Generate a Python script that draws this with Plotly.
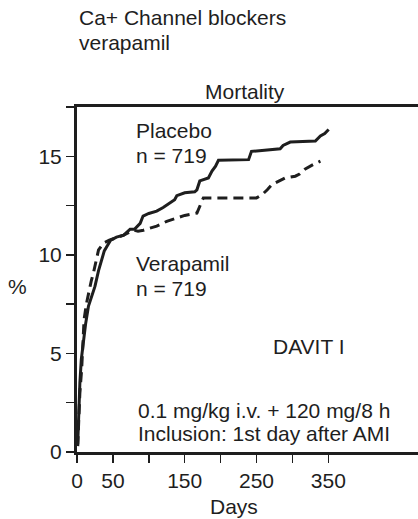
import plotly.graph_objects as go

# Data (Kaplan-Meier style cumulative mortality, %)
placebo_days = [1, 2, 4, 6, 9, 12, 16, 20, 25, 30, 34, 38, 42, 47, 55, 65, 74, 80, 88, 92,
                100, 111, 120, 130, 136, 139, 150, 164, 167, 171, 183, 188, 193, 197,
                239, 243, 283, 287, 297, 332, 339, 345, 350.5]
placebo_pct = [0.4, 1.5, 3.5, 4.7, 5.7, 6.5, 7.4, 7.9, 8.4, 9.2, 9.75, 10.2, 10.45, 10.75,
               10.9, 11.0, 11.3, 11.3, 11.6, 11.97, 12.1, 12.22, 12.4, 12.64, 12.8, 13.0,
               13.15, 13.2, 13.3, 13.75, 13.9, 14.25, 14.5, 14.8, 14.83, 15.25, 15.38,
               15.55, 15.72, 15.77, 16.03, 16.15, 16.36]

verapamil_days = [1, 2, 4, 6.5, 9.8, 13, 16, 20, 23, 27, 30, 37, 45, 55, 65, 79, 85, 92.5,
                  111, 125, 134, 150, 167, 171, 176, 250, 258, 265, 271.5, 290, 304, 310,
                  318, 330, 339]
verapamil_pct = [0.3, 1.15, 3.0, 4.2, 6.7, 7.5, 8.1, 8.7, 9.1, 9.7, 10.25, 10.6, 10.75,
                 10.87, 11.0, 11.25, 11.2, 11.25, 11.46, 11.7, 11.82, 12.0, 12.12, 12.5,
                 12.89, 12.89, 13.06, 13.3, 13.56, 13.9, 13.99, 14.1, 14.36, 14.6, 14.75]

y_tickvals = [0, 2.5, 5, 7.5, 10, 12.5, 15, 17.5]
y_ticktext = ["0", "", "5", "", "10", "", "15", ""]
x_tickvals = [0, 50, 100, 150, 200, 250, 300, 350]
x_ticktext = ["0", "50", "", "150", "", "250", "", "350"]

FONT = "Liberation Sans, Arial, Helvetica, sans-serif"
INK = "#1e1e1e"
FS = 21

W, H = 418, 519
# plot area in window pixels (page body margin removed below)
AX_LEFT, AX_TOP, AX_BOTTOM = 77, 107, 452.5
L, T, B, R = AX_LEFT, AX_TOP, H - AX_BOTTOM, 0
PW, PH = W - L - R, H - T - B


def px(xp):
    return (xp - AX_LEFT) / PW


def py(yp):
    return (AX_BOTTOM - yp) / PH


fig = go.Figure()
fig.add_trace(go.Scatter(x=placebo_days, y=placebo_pct, mode="lines",
                         line=dict(color=INK, width=3), showlegend=False,
                         hoverinfo="skip"))
fig.add_trace(go.Scatter(x=verapamil_days, y=verapamil_pct, mode="lines",
                         line=dict(color=INK, width=3, dash="10px,6px"),
                         showlegend=False, hoverinfo="skip"))

texts = [
    ("Ca+ Channel blockers", 78, 25, "left"),
    ("verapamil", 78, 50, "left"),
    ("Mortality", 245, 99, "center"),
    ("Placebo", 135, 138, "left"),
    ("n = 719", 135, 162.5, "left"),
    ("Verapamil", 135, 271.5, "left"),
    ("n = 719", 135, 296.5, "left"),
    ("DAVIT I", 272, 354, "left"),
    ("0.1 mg/kg i.v. + 120 mg/8 h", 137, 418.3, "left"),
    ("Inclusion: 1st day after AMI", 137, 441.7, "left"),
    ("%", 17, 294, "center"),
    ("Days", 233.5, 514.5, "center"),
]
annotations = []
for txt, xp, base, anchor in texts:
    annotations.append(dict(
        text=txt, xref="paper", yref="paper",
        x=px(xp), y=py(base - 0.35 * FS),
        xanchor=anchor, yanchor="middle", showarrow=False, borderpad=0,
        font=dict(family=FONT, size=FS, color=INK),
    ))

fig.update_layout(
    width=W, height=H,
    margin=dict(l=L, r=R, t=T, b=B, pad=0),
    paper_bgcolor="white", plot_bgcolor="white",
    font=dict(family=FONT, size=FS, color=INK),
    annotations=annotations,
    hovermode=False,
    xaxis=dict(range=[0, PW / 0.718], tickmode="array", tickvals=x_tickvals,
               ticktext=x_ticktext, ticks="outside", ticklen=8, tickwidth=1.5,
               tickcolor=INK, showline=True, linewidth=3, linecolor=INK,
               mirror=True, showgrid=False, zeroline=False, automargin=False,
               tickfont=dict(family=FONT, size=FS, color=INK)),
    yaxis=dict(range=[0, 17.5], tickmode="array", tickvals=y_tickvals,
               ticktext=y_ticktext, ticks="outside", ticklen=8, tickwidth=1.5,
               tickcolor=INK, showline=True, linewidth=3, linecolor=INK,
               showgrid=False, zeroline=False, automargin=False,
               tickfont=dict(family=FONT, size=FS, color=INK)),
)

fig.write_html("out.html",
               config={"displayModeBar": False, "staticPlot": True},
               post_script="document.body.style.margin='0';document.body.style.overflow='hidden';")
